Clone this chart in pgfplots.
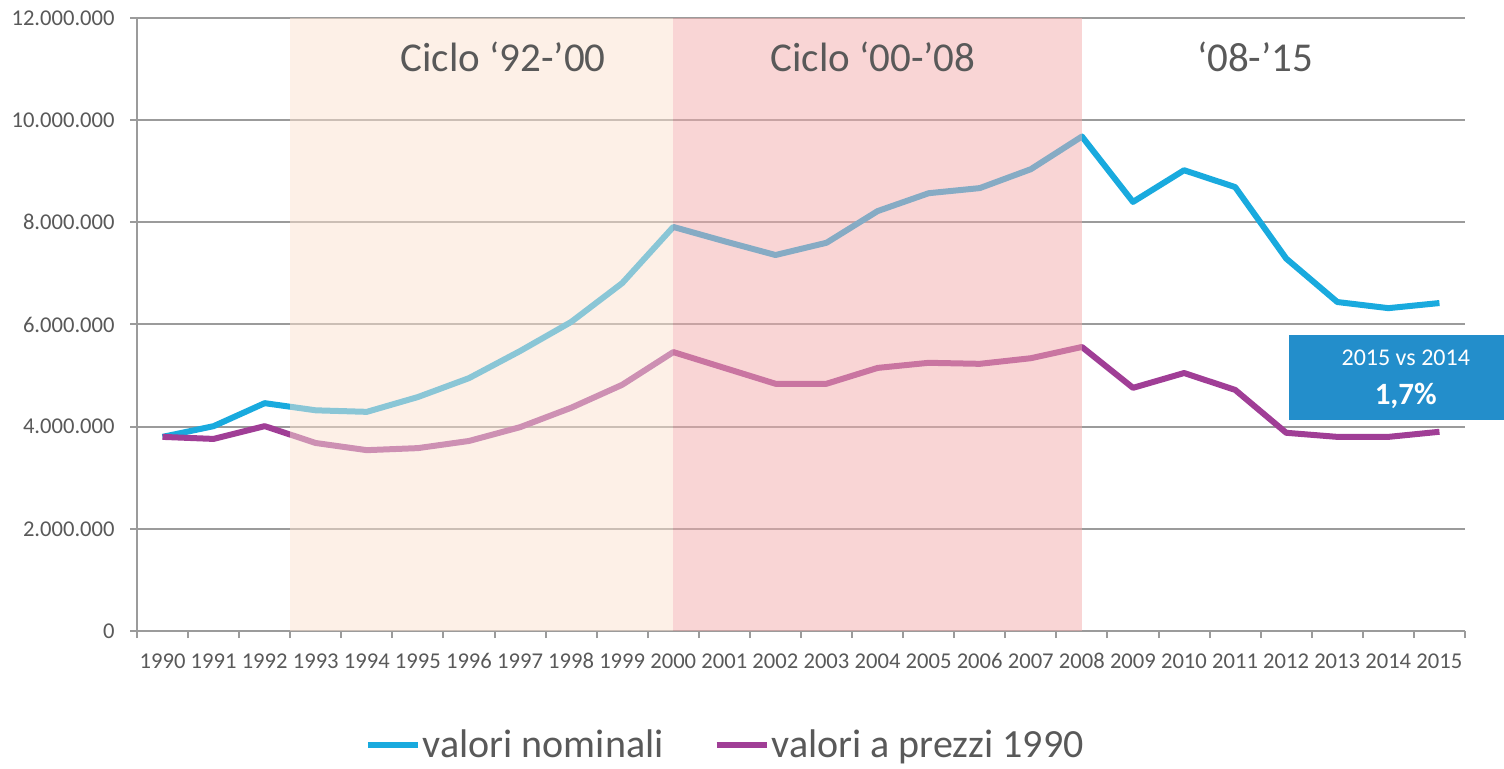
\documentclass[border=0pt]{standalone}
\usepackage{fontspec}
\setmainfont{Carlito}
\usepackage{pgfplots}
\usepackage{pgfplotstable}
\pgfplotsset{compat=1.18}
\definecolor{nomblue}{RGB}{25,170,222}
\definecolor{realpurple}{RGB}{160,62,150}
\definecolor{peach}{RGB}{251,226,208}
\definecolor{pinkred}{RGB}{243,172,172}
\definecolor{boxblue}{RGB}{35,142,203}
\definecolor{txtgray}{RGB}{89,89,89}
\definecolor{gridgray}{RGB}{155,155,155}

\pgfplotstableread{
year nom real
1990 3800000 3800000
1991 4010000 3760000
1992 4460000 4010000
1993 4320000 3680000
1994 4290000 3540000
1995 4580000 3580000
1996 4950000 3720000
1997 5480000 3990000
1998 6050000 4370000
1999 6810000 4820000
2000 7910000 5460000
2001 7630000 5150000
2002 7360000 4840000
2003 7600000 4840000
2004 8220000 5150000
2005 8570000 5250000
2006 8670000 5230000
2007 9040000 5340000
2008 9680000 5560000
2009 8400000 4760000
2010 9020000 5050000
2011 8690000 4720000
2012 7290000 3880000
2013 6440000 3800000
2014 6320000 3800000
2015 6420000 3900000
}\datatable

\begin{document}
\begin{tikzpicture}
\useasboundingbox (0,0) rectangle (752bp,384.5bp);
\begin{axis}[
  at={(68.5bp,69bp)}, anchor=south west,
  scale only axis, width=664bp, height=306.5bp,
  xmin=1989.5, xmax=2015.5, ymin=0, ymax=12000000,
  clip=false,
  axis lines=left,
  axis line style={draw=gridgray, line width=1bp, -},
  xtick={1990,...,2015},
  minor xtick={1989.5,1990.5,1991.5,1992.5,1993.5,1994.5,1995.5,1996.5,1997.5,1998.5,1999.5,2000.5,2001.5,2002.5,2003.5,2004.5,2005.5,2006.5,2007.5,2008.5,2009.5,2010.5,2011.5,2012.5,2013.5,2014.5,2015.5},
  major x tick style={draw=none},
  minor x tick style={draw=gridgray, line width=1bp},
  ytick={0,2000000,4000000,6000000,8000000,10000000,12000000},
  yticklabels={0,2.000.000,4.000.000,6.000.000,8.000.000,10.000.000,12.000.000},
  y tick style={draw=gridgray, line width=1bp},
  tick align=outside,
  major tick length=3.5bp, minor tick length=3.5bp,
  scaled y ticks=false,
  ymajorgrids,
  grid style={draw=gridgray, line width=1bp},
  tick label style={font=\fontsize{11.3bp}{13bp}\selectfont, text=txtgray},
  /pgf/number format/assume math mode=true,
  yticklabel style={anchor=east, inner sep=0pt, xshift=-7.5bp},
  xticklabel style={/pgf/number format/1000 sep={}, anchor=north, text height=8bp, text depth=0bp, yshift=-3.5bp},
  legend style={at={(0.443,-0.186)}, anchor=center, draw=none, fill=none,
    font=\fontsize{20bp}{24bp}\selectfont, text=txtgray,
    nodes={inner sep=1bp},
    /tikz/every even column/.append style={column sep=24bp}},
  legend columns=2,
  legend image code/.code={\draw[#1] (0bp,0bp) -- (25bp,0bp);},
]
\addplot[nomblue, line width=3bp, line join=round] table[x=year,y=nom]{\datatable};
\addlegendentry{valori nominali}
\addplot[realpurple, line width=3bp, line join=round] table[x=year,y=real]{\datatable};
\addlegendentry{valori a prezzi 1990}

\fill[peach, fill opacity=0.5] (axis cs:1992.5,0) rectangle (axis cs:2000,12000000);
\fill[pinkred, fill opacity=0.5] (axis cs:2000,0) rectangle (axis cs:2008,12000000);

\node[font=\fontsize{20.5bp}{24bp}\selectfont, text=txtgray] at (axis cs:1996.67,11240000) {Ciclo ‘92-’00};
\node[font=\fontsize{20.5bp}{24bp}\selectfont, text=txtgray] at (axis cs:2003.91,11240000) {Ciclo ‘00-’08};
\node[font=\fontsize{20.5bp}{24bp}\selectfont, text=txtgray] at (axis cs:2011.39,11240000) {‘08-’15};

\fill[boxblue] (axis cs:2012.05,4130000) rectangle (axis cs:2017,5800000);
\node[font=\fontsize{12bp}{14bp}\selectfont, text=white] at (axis cs:2014.34,5340000) {2015 vs 2014};
\node[font=\fontsize{15.5bp}{18bp}\selectfont\bfseries, text=white] at (axis cs:2014.34,4600000) {1,7\%};
\end{axis}
\end{tikzpicture}
\end{document}
